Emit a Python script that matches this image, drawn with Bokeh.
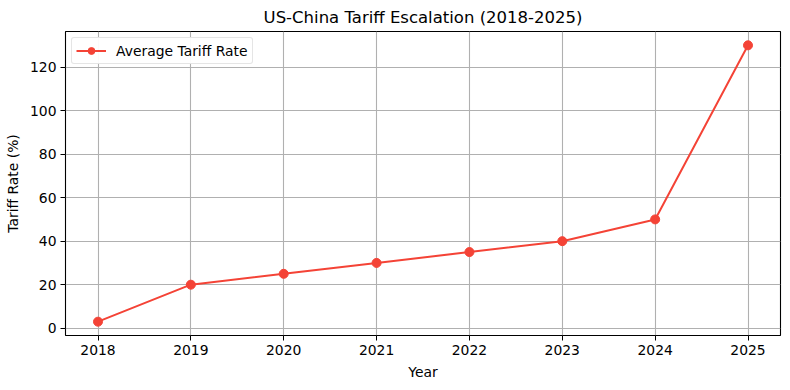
from bokeh.plotting import figure
from bokeh.embed import file_html
from bokeh.resources import INLINE
from bokeh.models import Range1d, FixedTicker
from bokeh.core.properties import value

years = [2018, 2019, 2020, 2021, 2022, 2023, 2024, 2025]
tariff = [3, 20, 25, 30, 35, 40, 50, 130]
y_ticks = [0, 20, 40, 60, 80, 100, 120]

RED = "#F44336"
FONT = "DejaVu Sans"

p = figure(width=782, height=382, output_backend="svg", toolbar_location=None,
           x_range=Range1d(2017.65, 2025.35), y_range=Range1d(-3.35, 136.35),
           title="US-China Tariff Escalation (2018-2025)",
           min_border_left=65, min_border_right=2, min_border_top=25, min_border_bottom=40)

p.title.align = "center"
p.title.text_font = FONT
p.title.text_font_size = "16.5px"
p.title.text_font_style = "normal"
p.title.text_color = "black"
p.title.offset = 0

p.line(years, tariff, color=RED, line_width=2, legend_label="Average Tariff Rate")
p.scatter(years, tariff, color=RED, size=9, legend_label="Average Tariff Rate")

p.xaxis.ticker = FixedTicker(ticks=years)
p.yaxis.ticker = FixedTicker(ticks=y_ticks)
p.xaxis.axis_label = "Year"
p.yaxis.axis_label = "Tariff Rate (%)"

for ax in [p.xaxis[0], p.yaxis[0]]:
    ax.axis_label_text_font = FONT
    ax.axis_label_text_font_size = "13.9px"
    ax.axis_label_text_font_style = "normal"
    ax.axis_label_text_color = "black"
    ax.major_label_text_font = FONT
    ax.major_label_text_font_size = "13.9px"
    ax.major_label_text_color = "black"
    ax.major_tick_out = 5
    ax.major_tick_in = 0
    ax.minor_tick_out = 0
    ax.minor_tick_in = 0
    ax.axis_line_color = None
    ax.major_tick_line_color = "black"
    ax.major_tick_line_width = 1
    ax.major_label_standoff = 4
    ax.axis_label_standoff = 6
p.yaxis.axis_label_standoff = 6

p.outline_line_color = "black"
p.outline_line_width = 1.1
p.grid.grid_line_color = "#b0b0b0"
p.grid.grid_line_width = 1.1
p.background_fill_color = "white"
p.border_fill_color = "white"

p.legend.location = "top_left"
p.legend.label_text_font = FONT
p.legend.label_text_font_size = "13.9px"
p.legend.label_text_color = "black"
p.legend.border_line_color = "#cccccc"
p.legend.border_line_width = 1
p.legend.border_radius = 3
p.legend.margin = 6
p.legend.padding = 4
p.legend.spacing = 0
p.legend.glyph_width = 30
p.legend.glyph_height = 17
p.legend.label_standoff = 10
p.legend.label_height = 17

open("out.html", "w").write(file_html(p, INLINE))
